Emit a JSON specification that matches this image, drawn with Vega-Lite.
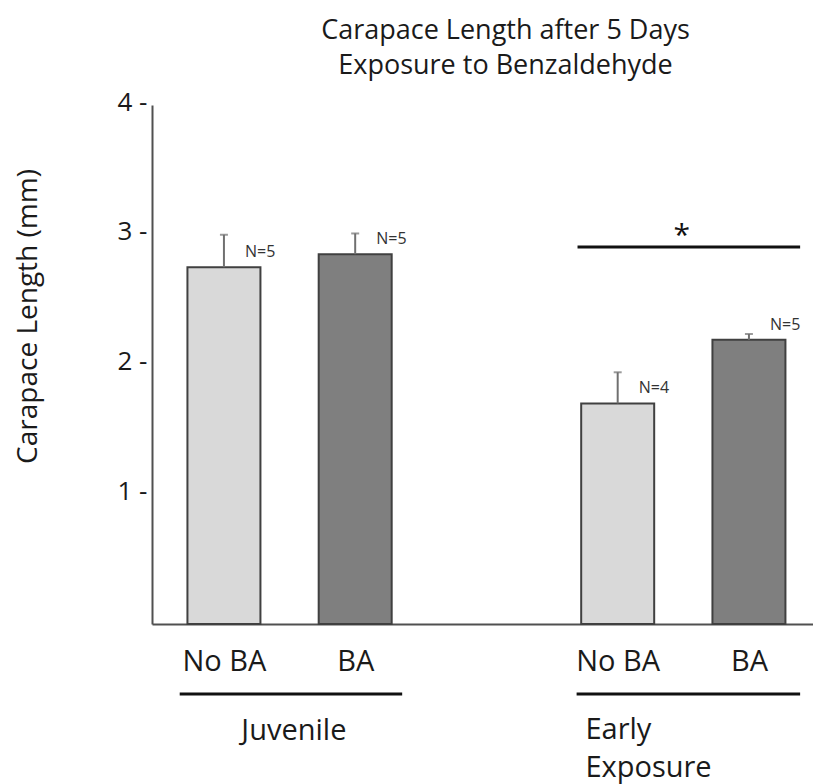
{
  "$schema": "https://vega.github.io/schema/vega-lite/v6.json",
  "autosize": "none",
  "width": 661,
  "height": 519,
  "padding": {"left": 152, "top": 105, "right": 0, "bottom": 160},
  "background": "white",
  "config": {
    "view": {"stroke": null},
    "font": "Open Sans",
    "text": {"font": "Open Sans", "color": "#1a1a1a"}
  },
  "title": {
    "text": ["Carapace Length after 5 Days", "Exposure to Benzaldehyde"],
    "font": "Open Sans",
    "fontSize": 27,
    "fontWeight": "normal",
    "color": "#1a1a1a",
    "lineHeight": 35,
    "anchor": "middle",
    "dx": 23,
    "offset": 9
  },
  "datasets": {
    "bars": [
      {"group": "Juvenile", "treatment": "No BA", "pos": 0, "mean": 2.75, "upper": 3.0, "n": "N=5"},
      {"group": "Juvenile", "treatment": "BA", "pos": 1, "mean": 2.85, "upper": 3.01, "n": "N=5"},
      {"group": "Early Exposure", "treatment": "No BA", "pos": 3, "mean": 1.7, "upper": 1.94, "n": "N=4"},
      {"group": "Early Exposure", "treatment": "BA", "pos": 4, "mean": 2.19, "upper": 2.235, "n": "N=5"}
    ],
    "lines": [
      {"kind": "underline", "x": -0.337, "x2": 1.358, "y": -0.54},
      {"kind": "underline", "x": 2.687, "x2": 4.39, "y": -0.54},
      {"kind": "significance", "x": 2.694, "x2": 4.39, "y": 2.906}
    ],
    "labels": [
      {"label": "Juvenile", "x": 0.533, "y": -0.825, "align": "center"},
      {"label": "Early", "x": 2.754, "y": -0.817, "align": "left"},
      {"label": "Exposure", "x": 2.754, "y": -1.11, "align": "left"}
    ]
  },
  "layer": [
    {
      "data": {"name": "bars"},
      "mark": {"type": "bar", "width": 73, "stroke": "#404040", "strokeWidth": 2},
      "encoding": {
        "x": {
          "field": "pos",
          "type": "quantitative",
          "scale": {"domain": [-0.51, 4.45], "nice": false, "zero": false},
          "axis": {
            "title": null,
            "values": [0, 1, 3, 4],
            "labelExpr": "datum.value == 0 || datum.value == 3 ? 'No BA' : 'BA'",
            "ticks": false,
            "grid": false,
            "domainColor": "#505050",
            "domainWidth": 2,
            "labelFont": "Open Sans",
            "labelFontSize": 29,
            "labelColor": "#1a1a1a",
            "labelPadding": 23,
            "labelFlush": false,
            "labelOverlap": false
          }
        },
        "y": {
          "field": "mean",
          "type": "quantitative",
          "scale": {"domain": [0, 4], "nice": false},
          "axis": {
            "title": "Carapace Length (mm)",
            "values": [1, 2, 3, 4],
            "labelExpr": "format(datum.value, 'd') + ' -'",
            "ticks": false,
            "grid": false,
            "domainColor": "#505050",
            "domainWidth": 2,
            "labelFont": "Open Sans",
            "labelFontSize": 26,
            "labelColor": "#1a1a1a",
            "labelPadding": 5,
            "labelOffset": -3,
            "titleFont": "Open Sans",
            "titleFontSize": 28,
            "titleFontWeight": "normal",
            "titleColor": "#1a1a1a",
            "titleX": -124,
            "titleY": 211,
            "titleAngle": -90,
            "titleAlign": "center",
            "titleBaseline": "middle"
          }
        },
        "fill": {
          "field": "treatment",
          "type": "nominal",
          "scale": {"domain": ["No BA", "BA"], "range": ["#d9d9d9", "#7f7f7f"]},
          "legend": null
        }
      }
    },
    {
      "data": {"name": "bars"},
      "mark": {"type": "rule", "color": "#707070", "strokeWidth": 2},
      "encoding": {
        "x": {"field": "pos", "type": "quantitative"},
        "y": {"field": "mean", "type": "quantitative"},
        "y2": {"field": "upper"}
      }
    },
    {
      "data": {"name": "bars"},
      "mark": {"type": "tick", "orient": "horizontal", "size": 8, "thickness": 2, "color": "#707070"},
      "encoding": {
        "x": {"field": "pos", "type": "quantitative"},
        "y": {"field": "upper", "type": "quantitative"}
      }
    },
    {
      "data": {"name": "bars"},
      "mark": {"type": "text", "align": "left", "baseline": "middle", "dx": 21, "dy": -15, "fontSize": 16, "color": "#333333"},
      "encoding": {
        "x": {"field": "pos", "type": "quantitative"},
        "y": {"field": "mean", "type": "quantitative"},
        "text": {"field": "n"}
      }
    },
    {
      "data": {"name": "lines"},
      "mark": {"type": "rule", "color": "#111111", "strokeWidth": 3},
      "encoding": {
        "x": {"field": "x", "type": "quantitative"},
        "x2": {"field": "x2"},
        "y": {"field": "y", "type": "quantitative"}
      }
    },
    {
      "data": {"name": "lines"},
      "transform": [{"filter": "datum.kind == 'significance'"}],
      "mark": {"type": "text", "text": "*", "fontSize": 30, "baseline": "alphabetic", "align": "center", "dy": -2, "color": "#111111"},
      "encoding": {
        "x": {"datum": 3.489, "type": "quantitative"},
        "y": {"field": "y", "type": "quantitative"}
      }
    },
    {
      "data": {"name": "labels"},
      "transform": [{"filter": "datum.align == 'center'"}],
      "mark": {"type": "text", "align": "center", "baseline": "middle", "fontSize": 29, "color": "#1a1a1a"},
      "encoding": {
        "x": {"field": "x", "type": "quantitative"},
        "y": {"field": "y", "type": "quantitative"},
        "text": {"field": "label"}
      }
    },
    {
      "data": {"name": "labels"},
      "transform": [{"filter": "datum.align == 'left'"}],
      "mark": {"type": "text", "align": "left", "baseline": "middle", "fontSize": 29, "color": "#1a1a1a"},
      "encoding": {
        "x": {"field": "x", "type": "quantitative"},
        "y": {"field": "y", "type": "quantitative"},
        "text": {"field": "label"}
      }
    }
  ]
}
